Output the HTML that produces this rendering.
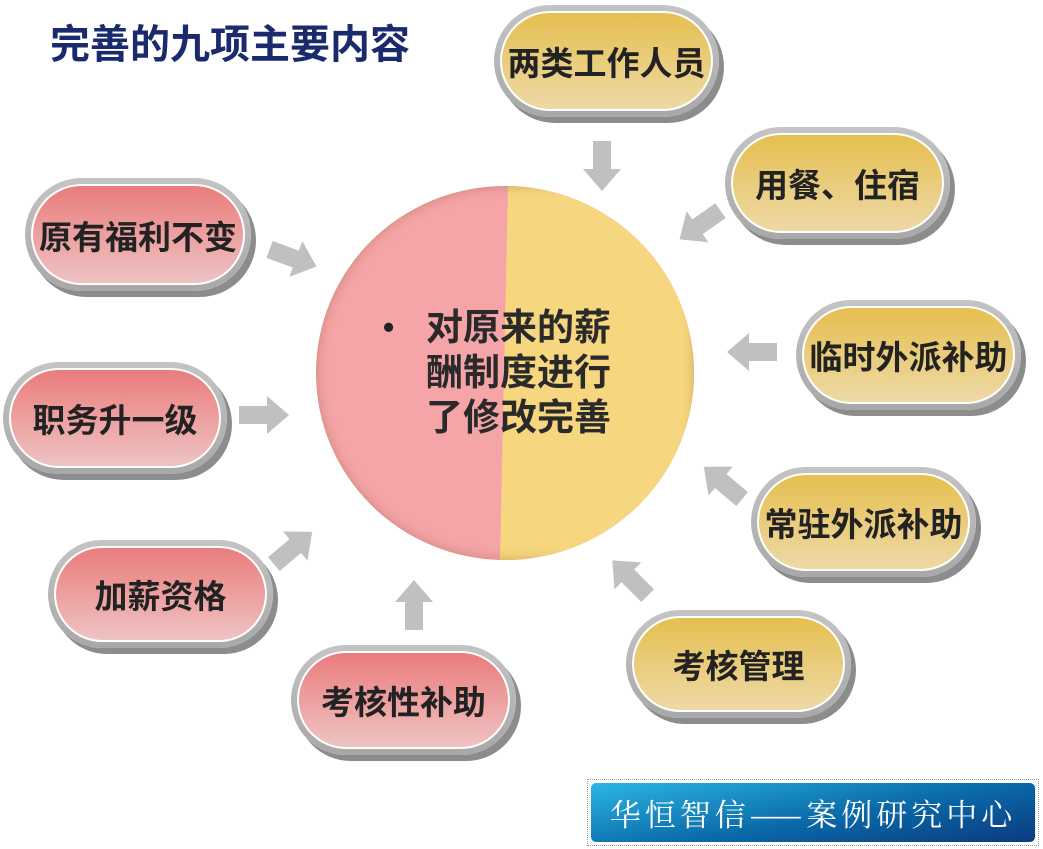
<!DOCTYPE html>
<html><head><meta charset="utf-8"><style>
body{margin:0;width:1043px;height:849px;background:#fff;position:relative;overflow:hidden;font-family:"Liberation Sans","Noto Sans CJK SC",sans-serif}
.t{position:absolute;left:50px;top:12px;font-size:40px;font-weight:bold;color:#1a2a6c;letter-spacing:0px}
.p{position:absolute;border-radius:60px;background:linear-gradient(#c4c4c4,#a8a8a8);box-shadow:5px 6px 0 #8c8c8c;box-sizing:border-box;padding:6px}
.p .w{width:100%;height:100%;border-radius:55px;background:#fff;padding:2px;box-sizing:border-box}
.p .i{width:100%;height:100%;border-radius:52px;display:flex;align-items:center;justify-content:center;font-weight:bold;font-size:33px;color:#222;white-space:nowrap}
.y .i{background:linear-gradient(#e6bf50,#edd9a6)}
.r .i{background:linear-gradient(#ea7c7c,#efc3c3)}
.c{position:absolute;left:316px;top:186px;width:378px;height:374px;border-radius:50%;overflow:hidden;background:#f5a5a7;box-shadow:inset 0 0 12px rgba(150,90,60,.45)}
.c .h{position:absolute;left:0;top:0;width:100%;height:100%;background:#f6d77f;clip-path:polygon(192px 0,378px 0,378px 374px,184px 374px);box-shadow:inset 0 0 12px rgba(150,110,40,.45)}
.ct{position:absolute;left:426px;top:305px;font-size:37px;font-weight:bold;color:#2a2a2a;line-height:45px;letter-spacing:0}
.b{position:absolute;left:383px;top:305px;font-size:32px;font-weight:bold;line-height:45px;color:#222}
.f{position:absolute;left:587px;top:779px;width:452px;height:67px;border:1px dotted #999;box-sizing:border-box;padding:3px}
.f div{width:100%;height:100%;border-radius:5px;background:linear-gradient(170deg,#2bb6e4,#0a6aa8 55%,#0b3a80);color:#fff;font-family:"Noto Serif CJK SC",serif;font-size:31px;display:flex;align-items:center;justify-content:center;letter-spacing:4px}
</style></head><body>
<div class="t">完善的九项主要内容</div>
<svg width="1043" height="849" style="position:absolute;left:0;top:0">
<defs><polygon id="a" points="-25,-9 3,-9 3,-19 25,0 3,19 3,9 -25,9" fill="#c0c0c0"/></defs>
<use href="#a" transform="translate(602,166) rotate(90)"/>
<use href="#a" transform="translate(700,225) rotate(145)"/>
<use href="#a" transform="translate(752,352) rotate(180)"/>
<use href="#a" transform="translate(723,483) rotate(-140)"/>
<use href="#a" transform="translate(630,578) rotate(-135)"/>
<use href="#a" transform="translate(414,605) rotate(-90)"/>
<use href="#a" transform="translate(293,548) rotate(-40)"/>
<use href="#a" transform="translate(264,415) rotate(0)"/>
<use href="#a" transform="translate(293,258) rotate(20)"/>
</svg>
<div class="c"><div class="h"></div></div>
<div class="b">•</div>
<div class="ct">对原来的薪<br>酬制度进行<br>了修改完善</div>
<div class="p y" style="left:494px;top:5px;width:225px;height:112px"><div class="w"><div class="i">两类工作人员</div></div></div>
<div class="p y" style="left:725px;top:127px;width:225px;height:112px"><div class="w"><div class="i">用餐、住宿</div></div></div>
<div class="p y" style="left:796px;top:300px;width:225px;height:110px"><div class="w"><div class="i">临时外派补助</div></div></div>
<div class="p y" style="left:751px;top:467px;width:225px;height:110px"><div class="w"><div class="i">常驻外派补助</div></div></div>
<div class="p y" style="left:626px;top:610px;width:225px;height:108px"><div class="w"><div class="i">考核管理</div></div></div>
<div class="p r" style="left:291px;top:645px;width:225px;height:110px"><div class="w"><div class="i">考核性补助</div></div></div>
<div class="p r" style="left:48px;top:540px;width:225px;height:108px"><div class="w"><div class="i">加薪资格</div></div></div>
<div class="p r" style="left:3px;top:362px;width:224px;height:112px"><div class="w"><div class="i">职务升一级</div></div></div>
<div class="p r" style="left:25px;top:178px;width:226px;height:113px"><div class="w"><div class="i">原有福利不变</div></div></div>
<div class="f"><div>华恒智信——案例研究中心</div></div>
</body></html>
